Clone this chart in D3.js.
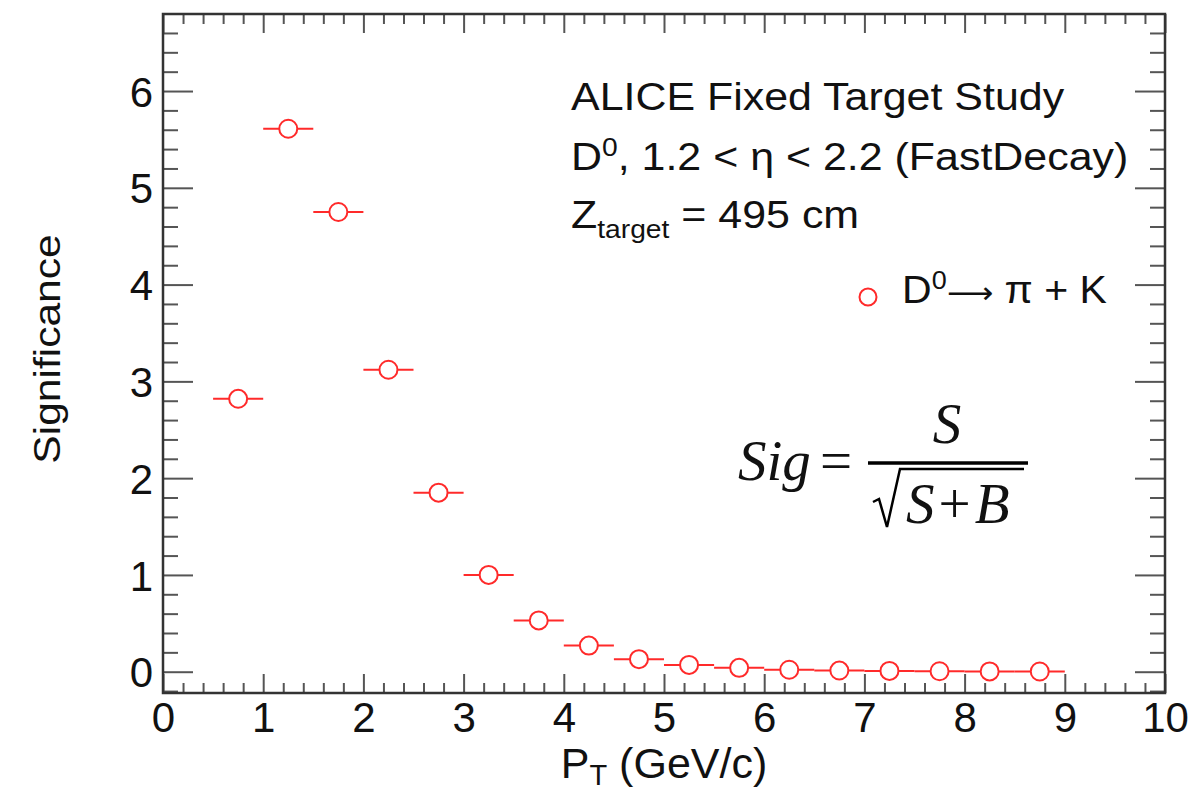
<!DOCTYPE html>
<html>
<head>
<meta charset="utf-8">
<script src="https://cdn.jsdelivr.net/npm/d3@7"></script>
<style>
  body { margin: 0; background: #fff; }
  svg text { fill: #111; }
</style>
</head>
<body>
<div id="chart"></div>
<script>
// Data
var ptBinLow = [0.5, 1.0, 1.5, 2.0, 2.5, 3.0, 3.5, 4.0, 4.5, 5.0, 5.5, 6.0, 6.5, 7.0, 7.5, 8.0, 8.5];
var ptBinHigh = [1.0, 1.5, 2.0, 2.5, 3.0, 3.5, 4.0, 4.5, 5.0, 5.5, 6.0, 6.5, 7.0, 7.5, 8.0, 8.5, 9.0];
var significance = [2.82, 5.61, 4.75, 3.12, 1.85, 1.00, 0.53, 0.27, 0.13, 0.07, 0.04, 0.02, 0.012, 0.008, 0.005, 0.003, 0.002];
var xMajorTicks = [0, 1, 2, 3, 4, 5, 6, 7, 8, 9, 10];
var yMajorTicks = [0, 1, 2, 3, 4, 5, 6];

// General chart parameters
var svgWidth = 1201;
var svgHeight = 791;
var margin = { top: 14, right: 36, bottom: 98, left: 163 };
var width = svgWidth - margin.left - margin.right;
var height = svgHeight - margin.top - margin.bottom;
var red = "#ff2a2a";
var sans = "'Liberation Sans', Arial, Helvetica, sans-serif";
var serif = "'Liberation Serif', 'DejaVu Serif', serif";

var svg = d3.select("#chart")
    .append("svg")
    .attr("width", svgWidth)
    .attr("height", svgHeight)
    .style("font-family", sans);

var chartGroup = svg.append("g")
    .attr("transform", `translate(${margin.left}, ${margin.top})`);

var xScale = d3.scaleLinear().domain([0, 10]).range([0, width]);
var yScale = d3.scaleLinear().domain([-0.22, 6.796]).range([height, 0]);

var xMinor = d3.range(0, 10.001, 0.2).map(d => +d.toFixed(1)).filter(d => xMajorTicks.indexOf(d) < 0);
var yMinor = d3.range(-0.2, 6.8, 0.2).map(d => +d.toFixed(1)).filter(d => yMajorTicks.indexOf(d) < 0);

function styleAxis(g) {
    g.select(".domain").remove();
    g.selectAll(".tick line").attr("stroke", "#555").attr("stroke-width", 2);
}

// Bottom axis (ticks pointing in)
var xAxis = chartGroup.append("g")
    .attr("transform", `translate(0, ${height})`)
    .call(d3.axisBottom(xScale).tickValues(xMajorTicks).tickSize(-19).tickSizeOuter(0).tickFormat(d3.format("d")))
    .call(styleAxis);
xAxis.selectAll(".tick text")
    .attr("y", 39).attr("dy", null)
    .style("font-family", sans)
    .attr("font-size", 42);
chartGroup.append("g")
    .attr("transform", `translate(0, ${height})`)
    .call(d3.axisBottom(xScale).tickValues(xMinor).tickSize(-10).tickFormat(""))
    .call(styleAxis);

// Top axis
chartGroup.append("g")
    .call(d3.axisTop(xScale).tickValues(xMajorTicks).tickSize(-19).tickFormat(""))
    .call(styleAxis);
chartGroup.append("g")
    .call(d3.axisTop(xScale).tickValues(xMinor).tickSize(-10).tickFormat(""))
    .call(styleAxis);

// Left axis
var yAxis = chartGroup.append("g")
    .call(d3.axisLeft(yScale).tickValues(yMajorTicks).tickSize(-30).tickPadding(10).tickFormat(d3.format("d")))
    .call(styleAxis);
yAxis.selectAll(".tick text")
    .attr("dy", "0.36em")
    .style("font-family", sans)
    .attr("font-size", 42);
chartGroup.append("g")
    .call(d3.axisLeft(yScale).tickValues(yMinor).tickSize(-15).tickFormat(""))
    .call(styleAxis);

// Right axis
chartGroup.append("g")
    .attr("transform", `translate(${width}, 0)`)
    .call(d3.axisRight(yScale).tickValues(yMajorTicks).tickSize(-30).tickFormat(""))
    .call(styleAxis);
chartGroup.append("g")
    .attr("transform", `translate(${width}, 0)`)
    .call(d3.axisRight(yScale).tickValues(yMinor).tickSize(-15).tickFormat(""))
    .call(styleAxis);

// Frame
chartGroup.append("rect")
    .attr("width", width)
    .attr("height", height)
    .attr("fill", "none")
    .attr("stroke", "#333")
    .attr("stroke-width", 2.5);

// Axis titles
var xTitle = svg.append("text")
    .attr("transform", `translate(${margin.left + width / 2}, 778)`)
    .attr("text-anchor", "middle")
    .attr("font-size", 43);
xTitle.append("tspan").text("P");
xTitle.append("tspan").attr("font-size", 29).attr("dy", 7).text("T");
xTitle.append("tspan").attr("dy", -7).text(" (GeV/c)");

svg.append("text")
    .attr("transform", `translate(60, 349) rotate(-90) scale(1.15, 1)`)
    .attr("text-anchor", "middle")
    .attr("font-size", 37)
    .text("Significance");

// Data: error bars and markers
var points = significance.map((v, i) => ({ lo: ptBinLow[i], hi: ptBinHigh[i], v: v }));

chartGroup.selectAll(".err")
    .data(points)
    .enter()
    .append("line")
    .attr("class", "err")
    .attr("x1", d => xScale(d.lo))
    .attr("x2", d => xScale(d.hi))
    .attr("y1", d => yScale(d.v))
    .attr("y2", d => yScale(d.v))
    .attr("stroke", red)
    .attr("stroke-width", 2);

chartGroup.selectAll(".pt")
    .data(points)
    .enter()
    .append("circle")
    .attr("class", "pt")
    .attr("cx", d => xScale((d.lo + d.hi) / 2))
    .attr("cy", d => yScale(d.v))
    .attr("r", 9)
    .attr("fill", "#fff")
    .attr("stroke", red)
    .attr("stroke-width", 2);

// Info text
var info = svg.append("g").attr("transform", "translate(571, 0)");
function infoLine(y) {
    return info.append("text")
        .attr("transform", `translate(0, ${y}) scale(1.13, 1)`)
        .attr("font-size", 38);
}
infoLine(110).text("ALICE Fixed Target Study");
var l2 = infoLine(170);
l2.append("tspan").text("D");
l2.append("tspan").attr("font-size", 25).attr("dy", -14).text("0");
l2.append("tspan").attr("dy", 14).text(", 1.2 < \u03b7 < 2.2 (FastDecay)");
var l3 = infoLine(228);
l3.append("tspan").text("Z");
l3.append("tspan").attr("font-size", 25).attr("dy", 10).text("target");
l3.append("tspan").attr("dy", -10).text(" = 495 cm");

// Legend
svg.append("circle")
    .attr("cx", 868).attr("cy", 297).attr("r", 8.5)
    .attr("fill", "#fff").attr("stroke", red).attr("stroke-width", 2);
var leg = svg.append("text")
    .attr("transform", "translate(902, 303) scale(1.08, 1)")
    .attr("font-size", 38);
leg.append("tspan").text("D");
leg.append("tspan").attr("font-size", 25).attr("dy", -14).text("0");
leg.append("tspan").attr("dy", 14).style("font-family", "'DejaVu Sans', sans-serif").attr("font-size", 30).text("\u27f6");
leg.append("tspan").text(" \u03c0 + K");

// Formula
var f = svg.append("g").attr("transform", "translate(738, 480)");
f.append("text").style("font-family", serif).style("font-style", "italic")
    .attr("font-size", 57).attr("fill", "#000").text("Sig");
f.append("text").style("font-family", serif).attr("x", 82)
    .attr("font-size", 57).attr("fill", "#000").text("=");
f.append("line").attr("x1", 130).attr("x2", 290).attr("y1", -17).attr("y2", -17)
    .attr("stroke", "#000").attr("stroke-width", 3.5);
f.append("text").style("font-family", serif).style("font-style", "italic")
    .attr("text-anchor", "middle").attr("x", 209).attr("y", -37)
    .attr("font-size", 57).attr("fill", "#000").text("S");
f.append("path")
    .attr("d", "M135,22 L141,19 L149,47 L162,-11 L286,-11")
    .attr("fill", "none").attr("stroke", "#000").attr("stroke-width", 2.5);
var den = f.append("text").style("font-family", serif)
    .attr("x", 168).attr("y", 43).attr("font-size", 57).attr("fill", "#000");
den.append("tspan").style("font-style", "italic").text("S");
den.append("tspan").attr("dx", 4).text("+");
den.append("tspan").attr("dx", 4).style("font-style", "italic").text("B");
</script>
</body>
</html>
